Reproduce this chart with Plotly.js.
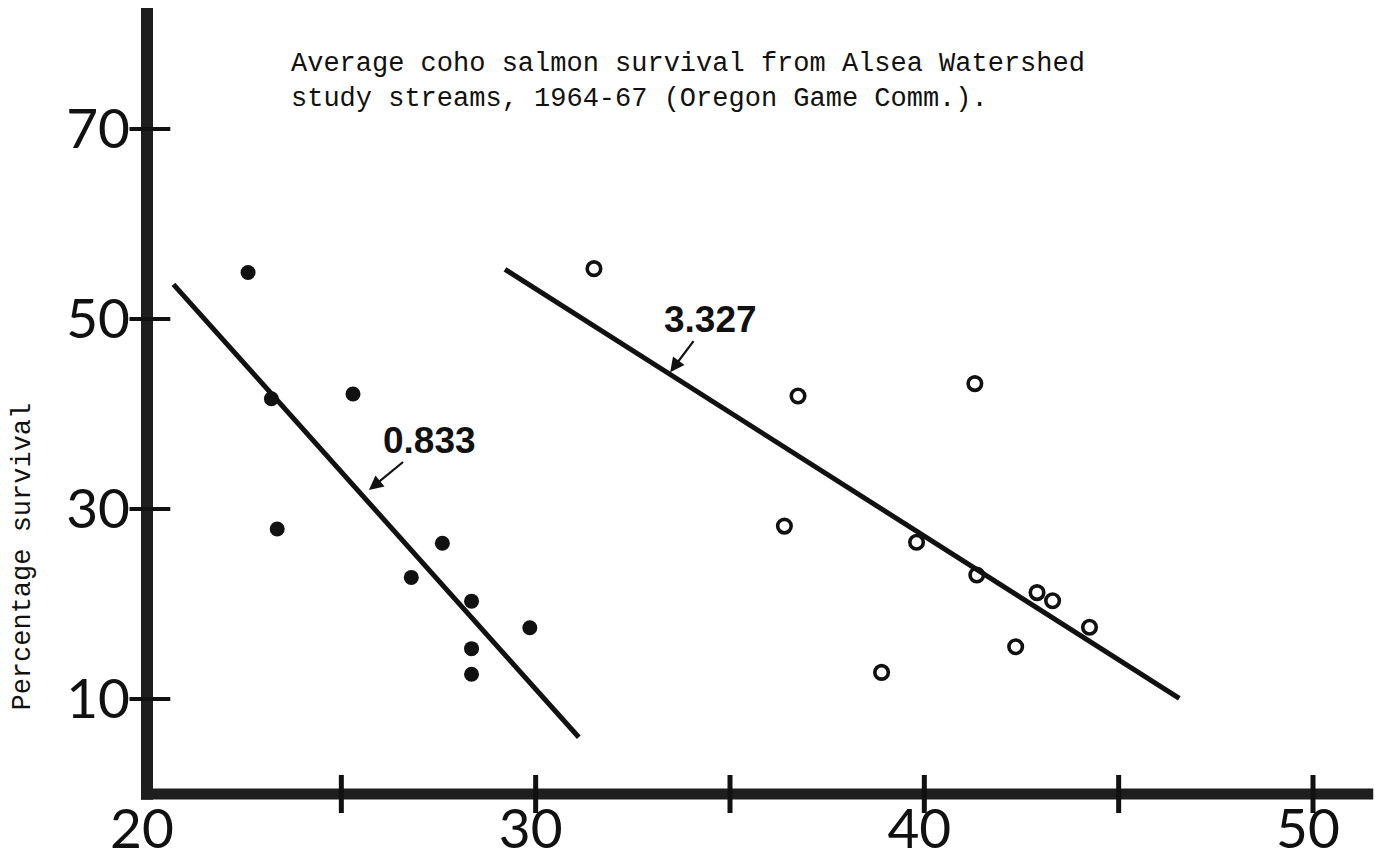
<!DOCTYPE html>
<html>
<head>
<meta charset="utf-8">
<script src="https://cdn.plot.ly/plotly-3.0.1.min.js"></script>
<style>html,body{margin:0;padding:0;background:#fff;}#chart{width:1386px;height:861px;}</style>
</head>
<body>
<div id="chart"></div>
<script>
// ---- data ----
const filledX = [22.6, 23.2, 23.35, 25.3, 26.8, 27.6, 28.35, 28.35, 28.35, 29.85];
const filledY = [54.9, 41.6, 27.9, 42.1, 22.8, 26.4, 20.3, 15.3, 12.6, 17.5];
const openX = [31.5, 36.4, 36.75, 38.9, 39.8, 41.3, 41.35, 42.35, 42.9, 43.3, 44.25];
const openY = [55.3, 28.2, 41.9, 12.8, 26.5, 43.2, 23.05, 15.5, 21.2, 20.35, 17.55];
const fitAX = [20.68, 31.11];
const fitAY = [53.65, 5.97];
const fitBX = [29.21, 46.56];
const fitBY = [55.23, 10.07];
const fitLabels = ['0.833', '3.327'];
const fitLabelTipX = [25.71, 33.46];
const fitLabelTipY = [32.0, 44.4];
const xTickVals = [20, 30, 40, 50];
const xTickText = ['20', '30', '40', '50'];
const yTickVals = [10, 30, 50, 70];
const yTickText = ['10', '30', '50', '70'];
const xMarkVals = [25, 30, 35, 40, 45, 50];
const yMarkVals = [10, 30, 50, 70];
const titleLines = ['Average coho salmon survival from Alsea Watershed',
                    'study streams, 1964-67 (Oregon Game Comm.).'];
const yTitle = 'Percentage survival';

// ---- layout helpers ----
const xRange = [18.019, 51.621];
const yRange = [-2.526, 82.737];
const axisColor = '#1e1e1e';
const ink = '#111111';

const traces = [
  {x: fitAX, y: fitAY, mode: 'lines', line: {color: ink, width: 5}, hoverinfo: 'skip'},
  {x: fitBX, y: fitBY, mode: 'lines', line: {color: ink, width: 5}, hoverinfo: 'skip'},
  {x: filledX, y: filledY, mode: 'markers', name: 'filled',
   marker: {symbol: 'circle', size: 15, color: ink, line: {width: 0}}},
  {x: openX, y: openY, mode: 'markers', name: 'open',
   marker: {symbol: 'circle-open', size: 13.5, color: ink, line: {width: 3.6, color: ink}}}
];

const shapes = [];
// y axis line
shapes.push({type: 'line', xref: 'x', yref: 'y', x0: 20, x1: 20, y0: -0.6, y1: yRange[1],
             line: {color: axisColor, width: 12}, layer: 'below'});
// x axis line
shapes.push({type: 'line', xref: 'x', yref: 'y', x0: 19.85, x1: 51.55, y0: 0, y1: 0,
             line: {color: axisColor, width: 11}, layer: 'below'});
// crossing tick marks
xMarkVals.forEach(v => shapes.push({type: 'line', xref: 'x', yref: 'y', x0: v, x1: v, y0: -2.0, y1: 2.0,
             line: {color: ink, width: 5}, layer: 'below'}));
yMarkVals.forEach(v => shapes.push({type: 'line', xref: 'x', yref: 'y', x0: 19.55, x1: 20.6, y0: v, y1: v,
             line: {color: ink, width: 4}, layer: 'below'}));

const labelFont = {family: 'Liberation Sans, Arial, sans-serif', size: 37, color: ink, weight: 'bold'};
const annotations = [];
annotations.push({text: fitLabels[0], x: fitLabelTipX[0], y: fitLabelTipY[0], xref: 'x', yref: 'y',
  ax: 61, ay: -50, showarrow: true, arrowhead: 2, arrowsize: 1.3, arrowwidth: 2.2, arrowcolor: ink,
  font: labelFont});
annotations.push({text: fitLabels[1], x: fitLabelTipX[1], y: fitLabelTipY[1], xref: 'x', yref: 'y',
  ax: 40, ay: -53, showarrow: true, arrowhead: 2, arrowsize: 1.3, arrowwidth: 2.2, arrowcolor: ink,
  font: labelFont});
annotations.push({text: yTitle, xref: 'paper', yref: 'y', x: -0.0367, y: 25, textangle: -90,
  showarrow: false, xanchor: 'center', yanchor: 'middle',
  font: {family: 'Liberation Mono, Courier New, monospace', size: 27, color: ink}});

const tickFont = {family: 'Lato, DejaVu Sans, sans-serif', size: 55, color: ink};

const layout = {
  width: 1386, height: 861,
  margin: {l: 70, r: 10, t: 8, b: 43, pad: 0},
  paper_bgcolor: '#ffffff', plot_bgcolor: '#ffffff',
  showlegend: false,
  title: {text: titleLines.join('<br>'), xref: 'container', yref: 'container',
          x: 291 / 1386, xanchor: 'left', y: 1 - 71 / 861, yanchor: 'top',
          font: {family: 'Liberation Mono, Courier New, monospace', size: 27, color: ink}},
  xaxis: {range: xRange, showgrid: false, zeroline: false, showline: false,
          tickmode: 'array', tickvals: xTickVals, ticktext: xTickText, ticks: '',
          anchor: 'free', position: 2.526 / 85.263, tickfont: tickFont,
          ticklabelstandoff: -2, ticklabelshift: -5, fixedrange: true},
  yaxis: {range: yRange, showgrid: false, zeroline: false, showline: false,
          tickmode: 'array', tickvals: yTickVals, ticktext: yTickText, ticks: '',
          anchor: 'free', position: 77 / 1306, tickfont: tickFont,
          ticklabelstandoff: 17, fixedrange: true},
  shapes: shapes,
  annotations: annotations
};

Plotly.newPlot('chart', traces, layout, {displayModeBar: false, staticPlot: true});
</script>
</body>
</html>
